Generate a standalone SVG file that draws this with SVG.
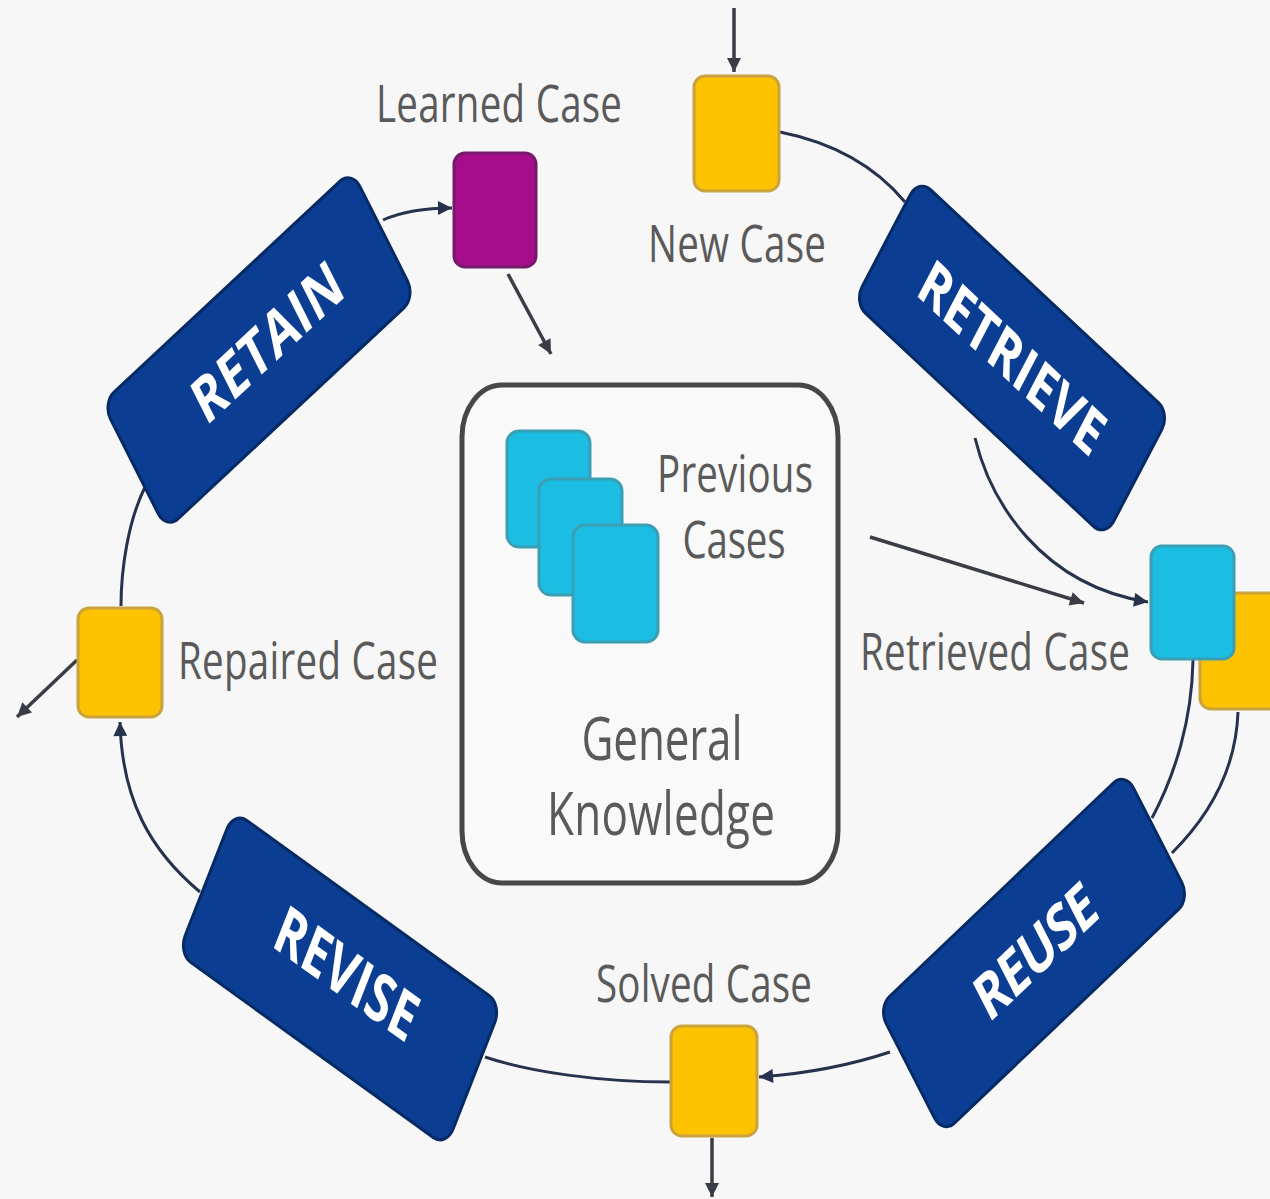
<svg xmlns="http://www.w3.org/2000/svg" width="1270" height="1199" viewBox="0 0 1270 1199">
<defs>
<style>
.lbl{font-family:"Open Sans","Noto Sans","Liberation Sans",sans-serif;font-size:38.5px;fill:#5a5a5a;text-anchor:middle}
.big{font-size:44px}
.ring{fill:none;stroke:#27324d;stroke-width:3}
.dark{fill:none;stroke:#3a3d45;stroke-width:3.5}
.proc rect{fill:#0b3e93;stroke:#062a63;stroke-width:3}
.proc text{font-family:"Open Sans","Noto Sans","Liberation Sans",sans-serif;font-weight:700;font-size:46px;fill:#ffffff;text-anchor:middle}
.yel{fill:#fdc200;stroke:#caa23e;stroke-width:3}
.cyan{fill:#1bbde3;stroke:#3b9fb4;stroke-width:3}
.pur{fill:#a50d8b;stroke:#741a68;stroke-width:3}
</style>
<marker id="ah" viewBox="0 0 10 10" refX="10" refY="5" markerWidth="16" markerHeight="14" markerUnits="userSpaceOnUse" orient="auto"><path d="M0,0 L10,5 L0,10 z" fill="#27324d"/></marker>
<marker id="ahd" viewBox="0 0 10 10" refX="10" refY="5" markerWidth="16" markerHeight="14" markerUnits="userSpaceOnUse" orient="auto"><path d="M0,0 L10,5 L0,10 z" fill="#3a3d45"/></marker>
</defs>
<rect width="1270" height="1199" fill="#f7f7f7"/>

<g id="connectors">
<path class="dark" d="M734,8 L734,72" marker-end="url(#ahd)"/>
<path class="ring" d="M780,132 Q860,148 905,202"/>
<path class="ring" d="M975,438 C990,500 1040,585 1148,602" marker-end="url(#ah)"/>
<path class="ring" d="M1193,660 C1192,720 1175,775 1152,818"/>
<path class="ring" d="M1238,712 C1236,770 1210,815 1172,853"/>
<path class="ring" d="M890,1052 Q830,1072 759,1077" marker-end="url(#ah)"/>
<path class="ring" d="M670,1082 C600,1082 530,1072 485,1057"/>
<path class="dark" d="M712,1138 L712,1197" marker-end="url(#ahd)"/>
<path class="ring" d="M200,892 C150,850 122,800 120,722" marker-end="url(#ah)"/>
<path class="ring" d="M121,606 C121,570 128,520 146,485"/>
<path class="dark" d="M77,660 L17,717" marker-end="url(#ahd)"/>
<path class="ring" d="M383,220 Q410,208 452,208" marker-end="url(#ah)"/>
<path class="dark" d="M508,274 L551,354" marker-end="url(#ahd)"/>
<path class="dark" d="M870,537 L1084,603" marker-end="url(#ahd)"/>
</g>

<g id="general-knowledge">
<rect x="462" y="385" width="376" height="498" rx="40" ry="52" fill="#f9f9f9" stroke="#474747" stroke-width="5"/>
<rect class="cyan" x="507" y="431" width="83" height="116" rx="12"/>
<rect class="cyan" x="539" y="479" width="83" height="116" rx="12"/>
<rect class="cyan" x="573" y="525" width="85" height="117" rx="12"/>
<text class="lbl" transform="translate(735,492) scale(1,1.35)" textLength="156">Previous</text>
<text class="lbl" transform="translate(734,558) scale(1,1.35)" textLength="103">Cases</text>
<text class="lbl big" transform="translate(662,760) scale(1,1.35)" textLength="161">General</text>
<text class="lbl big" transform="translate(661,835) scale(1,1.35)" textLength="228">Knowledge</text>
</g>

<g id="new-case">
<rect class="yel" x="694" y="76" width="85" height="115" rx="11"/>
<text class="lbl" transform="translate(737,262) scale(1,1.35)" textLength="178">New Case</text>
</g>

<g id="learned-case">
<rect class="pur" x="454" y="153" width="82" height="114" rx="11"/>
<text class="lbl" transform="translate(499,122) scale(1,1.35)" textLength="246">Learned Case</text>
</g>

<g id="retrieved-case">
<rect class="yel" x="1200" y="593" width="86" height="116" rx="11"/>
<rect class="cyan" x="1151" y="546" width="83" height="113" rx="11"/>
<text class="lbl" transform="translate(995,670) scale(1,1.35)" textLength="270">Retrieved Case</text>
</g>

<g id="solved-case">
<rect class="yel" x="671" y="1026" width="86" height="110" rx="11"/>
<text class="lbl" transform="translate(704,1002) scale(1,1.35)" textLength="216">Solved Case</text>
</g>

<g id="repaired-case">
<rect class="yel" x="78" y="608" width="84" height="109" rx="11"/>
<text class="lbl" transform="translate(308,679) scale(1,1.35)" textLength="260">Repaired Case</text>
</g>

<g id="retrieve" class="proc" transform="matrix(0.838 0.783 -0.59 1.124 1012 358)">
<rect x="-150" y="-55" width="300" height="110" rx="14" vector-effect="non-scaling-stroke"/>
<text x="0" y="16" textLength="211">RETRIEVE</text>
</g>

<g id="reuse" class="proc" transform="matrix(0.824 -0.786 0.59 1.152 1034 953)">
<rect x="-150" y="-55" width="300" height="110" rx="14" vector-effect="non-scaling-stroke"/>
<text x="2" y="16" textLength="137">REUSE</text>
</g>

<g id="revise" class="proc" transform="matrix(0.893 0.645 -0.506 1.292 340 979)">
<rect x="-150" y="-55" width="300" height="110" rx="14" vector-effect="non-scaling-stroke"/>
<text x="4" y="10" textLength="153">REVISE</text>
</g>

<g id="retain" class="proc" transform="matrix(0.831 -0.776 0.581 1.152 259 350)">
<rect x="-150" y="-55" width="300" height="110" rx="14" vector-effect="non-scaling-stroke"/>
<text x="10" y="16" textLength="170">RETAIN</text>
</g>
</svg>
